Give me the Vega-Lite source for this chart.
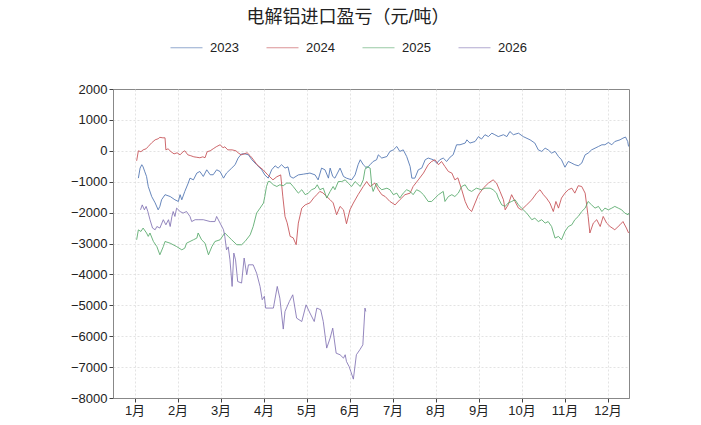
{
"$schema": "https://vega.github.io/schema/vega-lite/v6.json",
"autosize": "none",
"width": 516,
"height": 309,
"padding": {"left": 113, "top": 89, "right": 72, "bottom": 27},
"background": "white",
"title": {"text": "电解铝进口盈亏（元/吨）", "fontSize": 18, "fontWeight": "normal", "color": "#222", "anchor": "middle", "frame": "group", "dx": -23, "offset": 4, "font": "Liberation Sans, Noto Sans CJK SC"},
"config": {
"font": "Liberation Sans, Noto Sans CJK SC",
"view": {"stroke": "#888", "strokeWidth": 1},
"axis": {"labelFontSize": 13, "labelColor": "#222", "tickColor": "#444", "tickSize": 4, "domainColor": "#888", "gridColor": "#dcdcdc", "gridDash": [2, 2], "gridWidth": 0.8, "title": null, "labelFont": "Liberation Sans, Noto Sans CJK SC"}
},
"data": {"values": [
{"s":"2023","t":0.09,"v":-885},{"s":"2023","t":0.13,"v":-560},{"s":"2023","t":0.17,"v":-450},{"s":"2023","t":0.20,"v":-520},{"s":"2023","t":0.24,"v":-680},{"s":"2023","t":0.28,"v":-830},{"s":"2023","t":0.32,"v":-1155},{"s":"2023","t":0.40,"v":-1480},{"s":"2023","t":0.48,"v":-1685},{"s":"2023","t":0.55,"v":-1910},{"s":"2023","t":0.59,"v":-1800},{"s":"2023","t":0.63,"v":-1585},{"s":"2023","t":0.71,"v":-1420},{"s":"2023","t":0.83,"v":-1480},{"s":"2023","t":0.94,"v":-1585},{"s":"2023","t":1.02,"v":-1640},{"s":"2023","t":1.06,"v":-1420},{"s":"2023","t":1.10,"v":-1585},{"s":"2023","t":1.17,"v":-1315},{"s":"2023","t":1.25,"v":-1045},{"s":"2023","t":1.29,"v":-885},{"s":"2023","t":1.37,"v":-940},{"s":"2023","t":1.45,"v":-720},{"s":"2023","t":1.52,"v":-670},{"s":"2023","t":1.60,"v":-830},{"s":"2023","t":1.68,"v":-615},{"s":"2023","t":1.76,"v":-775},{"s":"2023","t":1.83,"v":-775},{"s":"2023","t":1.91,"v":-615},{"s":"2023","t":1.99,"v":-670},{"s":"2023","t":2.07,"v":-885},{"s":"2023","t":2.14,"v":-720},{"s":"2023","t":2.26,"v":-560},{"s":"2023","t":2.34,"v":-450},{"s":"2023","t":2.41,"v":-235},{"s":"2023","t":2.49,"v":-100},{"s":"2023","t":2.57,"v":-100},{"s":"2023","t":2.65,"v":-130},{"s":"2023","t":2.73,"v":-290},{"s":"2023","t":2.84,"v":-450},{"s":"2023","t":2.96,"v":-615},{"s":"2023","t":3.03,"v":-780},{"s":"2023","t":3.11,"v":-885},{"s":"2023","t":3.19,"v":-615},{"s":"2023","t":3.27,"v":-485},{"s":"2023","t":3.34,"v":-560},{"s":"2023","t":3.42,"v":-450},{"s":"2023","t":3.50,"v":-560},{"s":"2023","t":3.57,"v":-520},{"s":"2023","t":3.62,"v":-830},{"s":"2023","t":3.69,"v":-885},{"s":"2023","t":3.81,"v":-780},{"s":"2023","t":3.93,"v":-755},{"s":"2023","t":4.08,"v":-720},{"s":"2023","t":4.20,"v":-780},{"s":"2023","t":4.27,"v":-940},{"s":"2023","t":4.35,"v":-560},{"s":"2023","t":4.43,"v":-615},{"s":"2023","t":4.51,"v":-885},{"s":"2023","t":4.55,"v":-560},{"s":"2023","t":4.61,"v":-830},{"s":"2023","t":4.66,"v":-885},{"s":"2023","t":4.78,"v":-560},{"s":"2023","t":4.86,"v":-830},{"s":"2023","t":4.93,"v":-885},{"s":"2023","t":5.05,"v":-940},{"s":"2023","t":5.13,"v":-780},{"s":"2023","t":5.20,"v":-450},{"s":"2023","t":5.25,"v":-290},{"s":"2023","t":5.32,"v":-450},{"s":"2023","t":5.40,"v":-560},{"s":"2023","t":5.48,"v":-450},{"s":"2023","t":5.55,"v":-345},{"s":"2023","t":5.63,"v":-290},{"s":"2023","t":5.67,"v":-130},{"s":"2023","t":5.75,"v":-235},{"s":"2023","t":5.87,"v":-185},{"s":"2023","t":5.94,"v":-20},{"s":"2023","t":6.02,"v":30},{"s":"2023","t":6.10,"v":140},{"s":"2023","t":6.17,"v":-20},{"s":"2023","t":6.25,"v":30},{"s":"2023","t":6.33,"v":-185},{"s":"2023","t":6.41,"v":-510},{"s":"2023","t":6.45,"v":-885},{"s":"2023","t":6.52,"v":-885},{"s":"2023","t":6.60,"v":-615},{"s":"2023","t":6.68,"v":-560},{"s":"2023","t":6.76,"v":-290},{"s":"2023","t":6.83,"v":-235},{"s":"2023","t":6.95,"v":-290},{"s":"2023","t":7.03,"v":-400},{"s":"2023","t":7.10,"v":-290},{"s":"2023","t":7.18,"v":-235},{"s":"2023","t":7.26,"v":-345},{"s":"2023","t":7.34,"v":-205},{"s":"2023","t":7.41,"v":-130},{"s":"2023","t":7.49,"v":195},{"s":"2023","t":7.57,"v":195},{"s":"2023","t":7.69,"v":250},{"s":"2023","t":7.73,"v":355},{"s":"2023","t":7.80,"v":250},{"s":"2023","t":7.92,"v":300},{"s":"2023","t":8.00,"v":460},{"s":"2023","t":8.07,"v":380},{"s":"2023","t":8.15,"v":520},{"s":"2023","t":8.23,"v":460},{"s":"2023","t":8.31,"v":570},{"s":"2023","t":8.38,"v":520},{"s":"2023","t":8.46,"v":460},{"s":"2023","t":8.58,"v":520},{"s":"2023","t":8.66,"v":460},{"s":"2023","t":8.73,"v":625},{"s":"2023","t":8.81,"v":520},{"s":"2023","t":8.93,"v":570},{"s":"2023","t":9.04,"v":460},{"s":"2023","t":9.20,"v":355},{"s":"2023","t":9.31,"v":250},{"s":"2023","t":9.39,"v":30},{"s":"2023","t":9.47,"v":-20},{"s":"2023","t":9.55,"v":85},{"s":"2023","t":9.62,"v":30},{"s":"2023","t":9.70,"v":-75},{"s":"2023","t":9.78,"v":-20},{"s":"2023","t":9.86,"v":-185},{"s":"2023","t":9.93,"v":-290},{"s":"2023","t":10.01,"v":-530},{"s":"2023","t":10.09,"v":-345},{"s":"2023","t":10.17,"v":-400},{"s":"2023","t":10.24,"v":-450},{"s":"2023","t":10.32,"v":-485},{"s":"2023","t":10.40,"v":-400},{"s":"2023","t":10.48,"v":-130},{"s":"2023","t":10.55,"v":-75},{"s":"2023","t":10.63,"v":30},{"s":"2023","t":10.71,"v":85},{"s":"2023","t":10.79,"v":140},{"s":"2023","t":10.87,"v":195},{"s":"2023","t":10.94,"v":195},{"s":"2023","t":11.02,"v":270},{"s":"2023","t":11.10,"v":195},{"s":"2023","t":11.17,"v":300},{"s":"2023","t":11.29,"v":355},{"s":"2023","t":11.36,"v":410},{"s":"2023","t":11.42,"v":445},{"s":"2023","t":11.47,"v":300},{"s":"2023","t":11.49,"v":140},
{"s":"2024","t":0.05,"v":-324},{"s":"2024","t":0.09,"v":0},{"s":"2024","t":0.15,"v":-30},{"s":"2024","t":0.20,"v":30},{"s":"2024","t":0.27,"v":65},{"s":"2024","t":0.32,"v":140},{"s":"2024","t":0.40,"v":260},{"s":"2024","t":0.48,"v":355},{"s":"2024","t":0.55,"v":390},{"s":"2024","t":0.59,"v":435},{"s":"2024","t":0.66,"v":420},{"s":"2024","t":0.71,"v":420},{"s":"2024","t":0.73,"v":30},{"s":"2024","t":0.78,"v":65},{"s":"2024","t":0.85,"v":-30},{"s":"2024","t":0.92,"v":-100},{"s":"2024","t":0.99,"v":-65},{"s":"2024","t":1.06,"v":-130},{"s":"2024","t":1.13,"v":-30},{"s":"2024","t":1.17,"v":0},{"s":"2024","t":1.24,"v":-130},{"s":"2024","t":1.31,"v":-160},{"s":"2024","t":1.38,"v":-195},{"s":"2024","t":1.45,"v":-210},{"s":"2024","t":1.52,"v":-225},{"s":"2024","t":1.59,"v":-195},{"s":"2024","t":1.64,"v":-225},{"s":"2024","t":1.69,"v":-30},{"s":"2024","t":1.76,"v":0},{"s":"2024","t":1.83,"v":65},{"s":"2024","t":1.90,"v":130},{"s":"2024","t":1.99,"v":195},{"s":"2024","t":2.06,"v":100},{"s":"2024","t":2.10,"v":130},{"s":"2024","t":2.17,"v":30},{"s":"2024","t":2.27,"v":30},{"s":"2024","t":2.36,"v":0},{"s":"2024","t":2.41,"v":-65},{"s":"2024","t":2.48,"v":-130},{"s":"2024","t":2.55,"v":-100},{"s":"2024","t":2.62,"v":-65},{"s":"2024","t":2.69,"v":-160},{"s":"2024","t":2.73,"v":-225},{"s":"2024","t":2.85,"v":-450},{"s":"2024","t":2.99,"v":-615},{"s":"2024","t":3.10,"v":-780},{"s":"2024","t":3.22,"v":-940},{"s":"2024","t":3.31,"v":-840},{"s":"2024","t":3.40,"v":-780},{"s":"2024","t":3.45,"v":-1490},{"s":"2024","t":3.50,"v":-2125},{"s":"2024","t":3.55,"v":-2330},{"s":"2024","t":3.62,"v":-2770},{"s":"2024","t":3.69,"v":-2815},{"s":"2024","t":3.76,"v":-3040},{"s":"2024","t":3.81,"v":-2340},{"s":"2024","t":3.89,"v":-1855},{"s":"2024","t":3.97,"v":-1750},{"s":"2024","t":4.08,"v":-1685},{"s":"2024","t":4.17,"v":-1520},{"s":"2024","t":4.24,"v":-1420},{"s":"2024","t":4.31,"v":-1315},{"s":"2024","t":4.38,"v":-1360},{"s":"2024","t":4.47,"v":-1480},{"s":"2024","t":4.55,"v":-1585},{"s":"2024","t":4.62,"v":-1685},{"s":"2024","t":4.70,"v":-2070},{"s":"2024","t":4.78,"v":-1800},{"s":"2024","t":4.86,"v":-1910},{"s":"2024","t":4.93,"v":-2360},{"s":"2024","t":5.01,"v":-1910},{"s":"2024","t":5.09,"v":-1690},{"s":"2024","t":5.20,"v":-1420},{"s":"2024","t":5.32,"v":-1155},{"s":"2024","t":5.40,"v":-995},{"s":"2024","t":5.48,"v":-1155},{"s":"2024","t":5.59,"v":-1045},{"s":"2024","t":5.67,"v":-1260},{"s":"2024","t":5.75,"v":-1420},{"s":"2024","t":5.83,"v":-1480},{"s":"2024","t":5.94,"v":-1640},{"s":"2024","t":6.06,"v":-1750},{"s":"2024","t":6.17,"v":-1585},{"s":"2024","t":6.29,"v":-1420},{"s":"2024","t":6.41,"v":-1370},{"s":"2024","t":6.48,"v":-1155},{"s":"2024","t":6.60,"v":-940},{"s":"2024","t":6.72,"v":-720},{"s":"2024","t":6.83,"v":-450},{"s":"2024","t":6.91,"v":-345},{"s":"2024","t":6.99,"v":-290},{"s":"2024","t":7.07,"v":-450},{"s":"2024","t":7.14,"v":-345},{"s":"2024","t":7.22,"v":-510},{"s":"2024","t":7.30,"v":-670},{"s":"2024","t":7.38,"v":-720},{"s":"2024","t":7.45,"v":-940},{"s":"2024","t":7.52,"v":-875},{"s":"2024","t":7.61,"v":-1260},{"s":"2024","t":7.69,"v":-1640},{"s":"2024","t":7.76,"v":-1855},{"s":"2024","t":7.84,"v":-1965},{"s":"2024","t":7.92,"v":-1690},{"s":"2024","t":8.00,"v":-1420},{"s":"2024","t":8.11,"v":-1210},{"s":"2024","t":8.23,"v":-1045},{"s":"2024","t":8.34,"v":-940},{"s":"2024","t":8.42,"v":-1045},{"s":"2024","t":8.50,"v":-1315},{"s":"2024","t":8.58,"v":-1585},{"s":"2024","t":8.62,"v":-1910},{"s":"2024","t":8.69,"v":-1750},{"s":"2024","t":8.77,"v":-1420},{"s":"2024","t":8.85,"v":-1640},{"s":"2024","t":8.93,"v":-1855},{"s":"2024","t":9.00,"v":-1910},{"s":"2024","t":9.12,"v":-1750},{"s":"2024","t":9.24,"v":-1585},{"s":"2024","t":9.35,"v":-1370},{"s":"2024","t":9.43,"v":-1260},{"s":"2024","t":9.51,"v":-1420},{"s":"2024","t":9.58,"v":-1530},{"s":"2024","t":9.66,"v":-1690},{"s":"2024","t":9.74,"v":-1965},{"s":"2024","t":9.80,"v":-1640},{"s":"2024","t":9.86,"v":-1855},{"s":"2024","t":9.93,"v":-1530},{"s":"2024","t":10.01,"v":-1370},{"s":"2024","t":10.09,"v":-1260},{"s":"2024","t":10.17,"v":-1210},{"s":"2024","t":10.24,"v":-1370},{"s":"2024","t":10.32,"v":-1130},{"s":"2024","t":10.40,"v":-1155},{"s":"2024","t":10.48,"v":-1370},{"s":"2024","t":10.55,"v":-2125},{"s":"2024","t":10.59,"v":-2660},{"s":"2024","t":10.67,"v":-2340},{"s":"2024","t":10.75,"v":-2230},{"s":"2024","t":10.83,"v":-2450},{"s":"2024","t":10.90,"v":-2125},{"s":"2024","t":10.98,"v":-2340},{"s":"2024","t":11.06,"v":-2450},{"s":"2024","t":11.17,"v":-2555},{"s":"2024","t":11.29,"v":-2395},{"s":"2024","t":11.36,"v":-2290},{"s":"2024","t":11.44,"v":-2500},{"s":"2024","t":11.49,"v":-2660},
{"s":"2025","t":0.05,"v":-2880},{"s":"2025","t":0.09,"v":-2560},{"s":"2025","t":0.15,"v":-2610},{"s":"2025","t":0.20,"v":-2500},{"s":"2025","t":0.28,"v":-2660},{"s":"2025","t":0.32,"v":-2770},{"s":"2025","t":0.36,"v":-2660},{"s":"2025","t":0.44,"v":-2935},{"s":"2025","t":0.52,"v":-3100},{"s":"2025","t":0.59,"v":-3365},{"s":"2025","t":0.67,"v":-3100},{"s":"2025","t":0.71,"v":-2935},{"s":"2025","t":0.83,"v":-2990},{"s":"2025","t":0.98,"v":-3100},{"s":"2025","t":1.10,"v":-3205},{"s":"2025","t":1.17,"v":-3150},{"s":"2025","t":1.21,"v":-2990},{"s":"2025","t":1.29,"v":-2935},{"s":"2025","t":1.37,"v":-2880},{"s":"2025","t":1.45,"v":-2825},{"s":"2025","t":1.48,"v":-2660},{"s":"2025","t":1.56,"v":-2880},{"s":"2025","t":1.64,"v":-2990},{"s":"2025","t":1.72,"v":-3365},{"s":"2025","t":1.80,"v":-3100},{"s":"2025","t":1.87,"v":-2935},{"s":"2025","t":1.99,"v":-2880},{"s":"2025","t":2.10,"v":-2660},{"s":"2025","t":2.18,"v":-2770},{"s":"2025","t":2.26,"v":-2880},{"s":"2025","t":2.38,"v":-3040},{"s":"2025","t":2.49,"v":-3040},{"s":"2025","t":2.57,"v":-2935},{"s":"2025","t":2.69,"v":-2720},{"s":"2025","t":2.76,"v":-2450},{"s":"2025","t":2.84,"v":-2015},{"s":"2025","t":2.92,"v":-1855},{"s":"2025","t":3.00,"v":-1690},{"s":"2025","t":3.03,"v":-1480},{"s":"2025","t":3.07,"v":-1155},{"s":"2025","t":3.11,"v":-995},{"s":"2025","t":3.15,"v":-995},{"s":"2025","t":3.23,"v":-1100},{"s":"2025","t":3.31,"v":-1155},{"s":"2025","t":3.38,"v":-1100},{"s":"2025","t":3.46,"v":-1130},{"s":"2025","t":3.54,"v":-1045},{"s":"2025","t":3.62,"v":-1045},{"s":"2025","t":3.69,"v":-1155},{"s":"2025","t":3.81,"v":-1370},{"s":"2025","t":3.89,"v":-1260},{"s":"2025","t":3.97,"v":-1420},{"s":"2025","t":4.04,"v":-1370},{"s":"2025","t":4.12,"v":-1260},{"s":"2025","t":4.20,"v":-1210},{"s":"2025","t":4.25,"v":-1100},{"s":"2025","t":4.31,"v":-1260},{"s":"2025","t":4.39,"v":-1210},{"s":"2025","t":4.47,"v":-1530},{"s":"2025","t":4.55,"v":-1315},{"s":"2025","t":4.62,"v":-1155},{"s":"2025","t":4.66,"v":-1260},{"s":"2025","t":4.74,"v":-995},{"s":"2025","t":4.82,"v":-995},{"s":"2025","t":4.90,"v":-940},{"s":"2025","t":4.97,"v":-1045},{"s":"2025","t":5.05,"v":-1155},{"s":"2025","t":5.13,"v":-995},{"s":"2025","t":5.25,"v":-1155},{"s":"2025","t":5.32,"v":-940},{"s":"2025","t":5.36,"v":-615},{"s":"2025","t":5.40,"v":-510},{"s":"2025","t":5.48,"v":-560},{"s":"2025","t":5.52,"v":-1155},{"s":"2025","t":5.55,"v":-1315},{"s":"2025","t":5.63,"v":-1045},{"s":"2025","t":5.67,"v":-1155},{"s":"2025","t":5.75,"v":-1260},{"s":"2025","t":5.87,"v":-1210},{"s":"2025","t":5.94,"v":-1260},{"s":"2025","t":6.02,"v":-1420},{"s":"2025","t":6.10,"v":-1370},{"s":"2025","t":6.17,"v":-1530},{"s":"2025","t":6.25,"v":-1370},{"s":"2025","t":6.33,"v":-1260},{"s":"2025","t":6.41,"v":-1315},{"s":"2025","t":6.48,"v":-1420},{"s":"2025","t":6.56,"v":-1260},{"s":"2025","t":6.64,"v":-1315},{"s":"2025","t":6.72,"v":-1420},{"s":"2025","t":6.83,"v":-1640},{"s":"2025","t":6.91,"v":-1640},{"s":"2025","t":6.99,"v":-1530},{"s":"2025","t":7.07,"v":-1420},{"s":"2025","t":7.18,"v":-1315},{"s":"2025","t":7.22,"v":-1640},{"s":"2025","t":7.30,"v":-1480},{"s":"2025","t":7.38,"v":-1420},{"s":"2025","t":7.45,"v":-1480},{"s":"2025","t":7.53,"v":-1370},{"s":"2025","t":7.61,"v":-1155},{"s":"2025","t":7.69,"v":-1100},{"s":"2025","t":7.76,"v":-1260},{"s":"2025","t":7.84,"v":-1315},{"s":"2025","t":7.95,"v":-1210},{"s":"2025","t":8.07,"v":-1260},{"s":"2025","t":8.15,"v":-1210},{"s":"2025","t":8.27,"v":-1210},{"s":"2025","t":8.34,"v":-1260},{"s":"2025","t":8.42,"v":-1370},{"s":"2025","t":8.46,"v":-1530},{"s":"2025","t":8.54,"v":-1750},{"s":"2025","t":8.62,"v":-1800},{"s":"2025","t":8.69,"v":-1690},{"s":"2025","t":8.77,"v":-1640},{"s":"2025","t":8.85,"v":-1585},{"s":"2025","t":8.93,"v":-1750},{"s":"2025","t":9.00,"v":-1855},{"s":"2025","t":9.12,"v":-2015},{"s":"2025","t":9.24,"v":-2230},{"s":"2025","t":9.31,"v":-2180},{"s":"2025","t":9.39,"v":-2290},{"s":"2025","t":9.47,"v":-2230},{"s":"2025","t":9.55,"v":-2340},{"s":"2025","t":9.62,"v":-2290},{"s":"2025","t":9.70,"v":-2450},{"s":"2025","t":9.78,"v":-2825},{"s":"2025","t":9.86,"v":-2770},{"s":"2025","t":9.93,"v":-2880},{"s":"2025","t":10.01,"v":-2610},{"s":"2025","t":10.09,"v":-2450},{"s":"2025","t":10.17,"v":-2395},{"s":"2025","t":10.24,"v":-2230},{"s":"2025","t":10.32,"v":-2125},{"s":"2025","t":10.40,"v":-1965},{"s":"2025","t":10.48,"v":-1855},{"s":"2025","t":10.55,"v":-1640},{"s":"2025","t":10.63,"v":-1750},{"s":"2025","t":10.71,"v":-1855},{"s":"2025","t":10.79,"v":-1800},{"s":"2025","t":10.87,"v":-1965},{"s":"2025","t":10.94,"v":-1855},{"s":"2025","t":11.02,"v":-1910},{"s":"2025","t":11.10,"v":-1855},{"s":"2025","t":11.17,"v":-1800},{"s":"2025","t":11.25,"v":-1855},{"s":"2025","t":11.33,"v":-1910},{"s":"2025","t":11.40,"v":-2015},{"s":"2025","t":11.48,"v":-2070},{"s":"2025","t":11.49,"v":-2015},
{"s":"2026","t":0.14,"v":-1910},{"s":"2026","t":0.18,"v":-1750},{"s":"2026","t":0.23,"v":-1910},{"s":"2026","t":0.27,"v":-1800},{"s":"2026","t":0.31,"v":-1965},{"s":"2026","t":0.36,"v":-2230},{"s":"2026","t":0.42,"v":-2500},{"s":"2026","t":0.48,"v":-2555},{"s":"2026","t":0.52,"v":-2450},{"s":"2026","t":0.59,"v":-2500},{"s":"2026","t":0.67,"v":-2230},{"s":"2026","t":0.73,"v":-2395},{"s":"2026","t":0.79,"v":-2230},{"s":"2026","t":0.83,"v":-2450},{"s":"2026","t":0.87,"v":-2125},{"s":"2026","t":0.90,"v":-1965},{"s":"2026","t":0.94,"v":-2125},{"s":"2026","t":0.98,"v":-1855},{"s":"2026","t":1.06,"v":-1965},{"s":"2026","t":1.13,"v":-2015},{"s":"2026","t":1.21,"v":-1965},{"s":"2026","t":1.29,"v":-2125},{"s":"2026","t":1.33,"v":-2290},{"s":"2026","t":1.41,"v":-2230},{"s":"2026","t":1.48,"v":-2230},{"s":"2026","t":1.60,"v":-2230},{"s":"2026","t":1.76,"v":-2290},{"s":"2026","t":1.87,"v":-2290},{"s":"2026","t":1.91,"v":-2125},{"s":"2026","t":1.99,"v":-2340},{"s":"2026","t":2.07,"v":-2555},{"s":"2026","t":2.10,"v":-2770},{"s":"2026","t":2.14,"v":-3205},{"s":"2026","t":2.18,"v":-3110},{"s":"2026","t":2.22,"v":-3530},{"s":"2026","t":2.27,"v":-4390},{"s":"2026","t":2.31,"v":-3310},{"s":"2026","t":2.35,"v":-3530},{"s":"2026","t":2.40,"v":-4230},{"s":"2026","t":2.49,"v":-4280},{"s":"2026","t":2.55,"v":-3470},{"s":"2026","t":2.61,"v":-4010},{"s":"2026","t":2.65,"v":-3690},{"s":"2026","t":2.76,"v":-3690},{"s":"2026","t":2.84,"v":-3960},{"s":"2026","t":2.92,"v":-4390},{"s":"2026","t":2.97,"v":-4820},{"s":"2026","t":3.02,"v":-4710},{"s":"2026","t":3.05,"v":-5090},{"s":"2026","t":3.15,"v":-5090},{"s":"2026","t":3.23,"v":-5090},{"s":"2026","t":3.32,"v":-4390},{"s":"2026","t":3.38,"v":-4770},{"s":"2026","t":3.46,"v":-5770},{"s":"2026","t":3.50,"v":-5200},{"s":"2026","t":3.60,"v":-4880},{"s":"2026","t":3.68,"v":-4660},{"s":"2026","t":3.77,"v":-5415},{"s":"2026","t":3.89,"v":-5525},{"s":"2026","t":3.99,"v":-4985},{"s":"2026","t":4.08,"v":-5250},{"s":"2026","t":4.18,"v":-5525},{"s":"2026","t":4.24,"v":-5090},{"s":"2026","t":4.33,"v":-5145},{"s":"2026","t":4.39,"v":-5525},{"s":"2026","t":4.47,"v":-6385},{"s":"2026","t":4.55,"v":-6060},{"s":"2026","t":4.61,"v":-5740},{"s":"2026","t":4.69,"v":-6550},{"s":"2026","t":4.78,"v":-6600},{"s":"2026","t":4.86,"v":-6710},{"s":"2026","t":4.90,"v":-6600},{"s":"2026","t":4.93,"v":-6820},{"s":"2026","t":4.99,"v":-6980},{"s":"2026","t":5.03,"v":-7140},{"s":"2026","t":5.09,"v":-7390},{"s":"2026","t":5.16,"v":-6600},{"s":"2026","t":5.24,"v":-6440},{"s":"2026","t":5.31,"v":-6280},{"s":"2026","t":5.36,"v":-5090},{"s":"2026","t":5.38,"v":-5200}
]},
"mark": {"type": "line", "strokeWidth": 1, "opacity": 0.85, "clip": true},
"encoding": {
"x": {"field": "t", "type": "quantitative", "scale": {"domain": [-0.5, 11.5], "nice": false, "zero": false}, "axis": {"values": [0,1,2,3,4,5,6,7,8,9,10,11], "labelExpr": "(datum.value + 1) + '月'", "grid": true}},
"y": {"field": "v", "type": "quantitative", "scale": {"domain": [-8000, 2000], "nice": false, "zero": false}, "axis": {"values": [-8000,-7000,-6000,-5000,-4000,-3000,-2000,-1000,0,1000,2000], "format": "d", "grid": true, "gridOpacity": {"condition": {"test": "datum.value == 2000 || datum.value == -8000", "value": 0}, "value": 1}}},
"color": {"field": "s", "type": "nominal", "scale": {"domain": ["2023","2024","2025","2026"], "range": ["#4c72b0","#c44e52","#55a868","#8172b3"]},
"legend": {"title": null, "orient": "none", "legendX": 57, "legendY": -58, "direction": "horizontal", "symbolType": "stroke", "symbolSize": 1024, "symbolStrokeWidth": 1, "symbolOpacity": 0.6, "labelFontSize": 13, "labelColor": "#222", "labelOffset": 7, "columnPadding": 25}},
"detail": {"field": "s"}
}
}
